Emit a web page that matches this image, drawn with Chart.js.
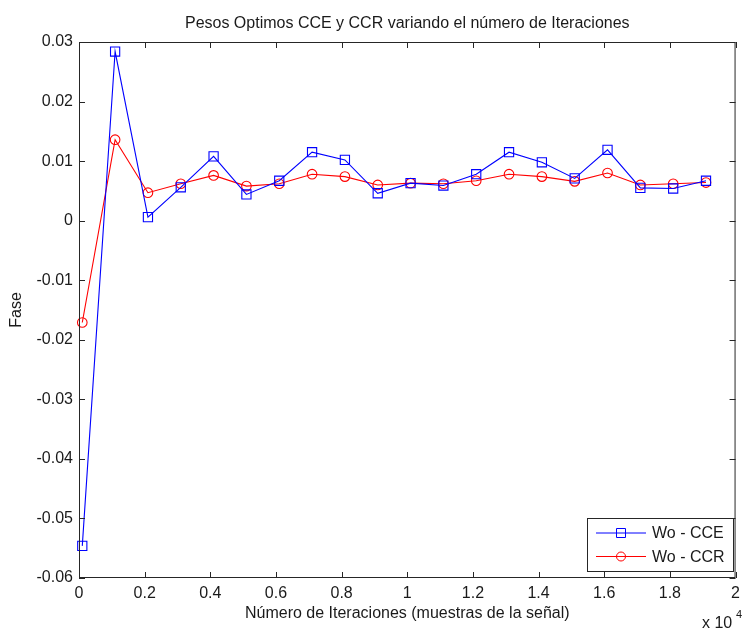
<!DOCTYPE html>
<html>
<head>
<meta charset="utf-8">
<script src="https://cdn.jsdelivr.net/npm/chart.js@4/dist/chart.umd.min.js"></script>
<style>
  html, body { margin: 0; padding: 0; background: #ffffff; }
  #wrap { width: 746px; height: 633px; }
</style>
</head>
<body>
<div id="wrap"><canvas id="grafico" width="746" height="633"></canvas></div>
<script>
// iteraciones en unidades de 10^4 muestras
const iteraciones = [0.01, 0.11, 0.21, 0.31, 0.41, 0.51, 0.61, 0.71, 0.81, 0.91,
                     1.01, 1.11, 1.21, 1.31, 1.41, 1.51, 1.61, 1.71, 1.81, 1.91];
const woCCE = [-0.0546, 0.0284, 0.0006, 0.0056, 0.0108, 0.0044, 0.0067, 0.0115, 0.0102, 0.0046,
               0.0063, 0.0059, 0.0078, 0.0115, 0.0098, 0.0071, 0.0119, 0.0055, 0.0054, 0.0067];
const woCCR = [-0.0171, 0.0136, 0.0047, 0.0062, 0.0076, 0.0058, 0.0062, 0.0078, 0.0074, 0.0060,
               0.0063, 0.0062, 0.0067, 0.0078, 0.0074, 0.0066, 0.0080, 0.0060, 0.0062, 0.0064];
const xTicks = [0, 0.2, 0.4, 0.6, 0.8, 1, 1.2, 1.4, 1.6, 1.8, 2];
const yTicks = [0.03, 0.02, 0.01, 0, -0.01, -0.02, -0.03, -0.04, -0.05, -0.06];

const titulo = "Pesos Optimos CCE y CCR variando el número de Iteraciones";
const etiquetaX = "Número de Iteraciones (muestras de la señal)";
const etiquetaY = "Fase";

const FUENTE = "'Liberation Sans', Arial, sans-serif";
const TEXTO = "#1a1a1a";
const EJE = "#262626";

function fmt(v) {
    return String(Number(v.toFixed(3)));
}

// caja, ticks hacia adentro, textos y leyenda al estilo MATLAB
const estiloMatlab = {
    id: "estiloMatlab",
    afterDatasetsDraw(chart) {
        const { ctx, chartArea: a, scales } = chart;
        const sx = scales.x, sy = scales.y;
        ctx.save();
        ctx.strokeStyle = EJE;
        ctx.lineWidth = 1;
        ctx.strokeRect(a.left + 0.5, a.top + 0.5, a.right - a.left - 1, a.bottom - a.top - 1);
        const L = 6;
        ctx.beginPath();
        xTicks.forEach(v => {
            const px = Math.round(sx.getPixelForValue(v)) + 0.5;
            ctx.moveTo(px, a.bottom); ctx.lineTo(px, a.bottom - L);
            ctx.moveTo(px, a.top); ctx.lineTo(px, a.top + L);
        });
        yTicks.forEach(v => {
            const py = Math.round(sy.getPixelForValue(v)) + 0.5;
            ctx.moveTo(a.left, py); ctx.lineTo(a.left + L, py);
            ctx.moveTo(a.right, py); ctx.lineTo(a.right - L, py);
        });
        ctx.stroke();

        // titulo y etiquetas
        ctx.fillStyle = TEXTO;
        ctx.font = "16px " + FUENTE;
        ctx.textAlign = "center";
        ctx.textBaseline = "middle";
        const cx = (a.left + a.right) / 2;
        ctx.fillText(titulo, cx, 24);
        ctx.fillText(etiquetaX, cx, 614);
        ctx.save();
        ctx.translate(17, (a.top + a.bottom) / 2);
        ctx.rotate(-Math.PI / 2);
        ctx.fillText(etiquetaY, 0, 0);
        ctx.restore();
        ctx.textAlign = "left";
        ctx.fillText("x 10", 702, 624);
        ctx.font = "11px " + FUENTE;
        ctx.fillText("4", 736, 615);

        // leyenda
        const lx = 587, ly = 518, lw = 146, lh = 53;
        ctx.fillStyle = "#ffffff";
        ctx.fillRect(lx, ly, lw, lh);
        ctx.strokeStyle = EJE;
        ctx.strokeRect(lx + 0.5, ly + 0.5, lw, lh);
        chart.data.datasets.forEach((ds, i) => {
            const yy = ly + 15 + i * 23.5;
            ctx.strokeStyle = ds.borderColor;
            ctx.lineWidth = 1;
            ctx.beginPath();
            ctx.moveTo(596, yy); ctx.lineTo(646, yy);
            ctx.stroke();
            ctx.beginPath();
            if (ds.pointStyle === "rect") {
                ctx.rect(621 - 4.5, yy - 4.5, 9, 9);
            } else {
                ctx.arc(621, yy, 4.5, 0, Math.PI * 2);
            }
            ctx.stroke();
            ctx.fillStyle = TEXTO;
            ctx.font = "16px " + FUENTE;
            ctx.textAlign = "left";
            ctx.fillText(ds.label, 652, yy + 1);
        });
        ctx.restore();
    }
};

const toPts = arr => arr.map((v, i) => ({ x: iteraciones[i], y: v }));

new Chart(document.getElementById("grafico"), {
    type: "line",
    data: {
        datasets: [
            {
                label: "Wo - CCE",
                data: toPts(woCCE),
                borderColor: "#0000ff",
                borderWidth: 1.1,
                pointStyle: "rect",
                pointRadius: 6.5,
                pointBorderWidth: 1.1,
                pointBackgroundColor: "rgba(0,0,0,0)",
                pointBorderColor: "#0000ff",
                tension: 0,
                clip: false
            },
            {
                label: "Wo - CCR",
                data: toPts(woCCR),
                borderColor: "#ff0000",
                borderWidth: 1.1,
                pointStyle: "circle",
                pointRadius: 4.8,
                pointBorderWidth: 1.1,
                pointBackgroundColor: "rgba(0,0,0,0)",
                pointBorderColor: "#ff0000",
                tension: 0,
                clip: false
            }
        ]
    },
    options: {
        responsive: false,
        animation: false,
        devicePixelRatio: 1,
        layout: { padding: { top: 42, right: 5, left: 0, bottom: 0 } },
        plugins: {
            legend: { display: false },
            title: { display: false },
            tooltip: { enabled: false }
        },
        scales: {
            x: {
                type: "linear",
                min: 0,
                max: 2,
                afterBuildTicks: s => { s.ticks = xTicks.map(v => ({ value: v })); },
                afterFit: s => { s.height = 55; },
                grid: { display: false, drawTicks: false },
                border: { display: false },
                ticks: {
                    padding: 6,
                    color: TEXTO,
                    font: { family: FUENTE, size: 16 },
                    maxRotation: 0,
                    callback: v => fmt(v)
                }
            },
            y: {
                type: "linear",
                min: -0.06,
                max: 0.03,
                afterBuildTicks: s => { s.ticks = yTicks.map(v => ({ value: v })); },
                afterFit: s => { s.width = 79; },
                grid: { display: false, drawTicks: false },
                border: { display: false },
                ticks: {
                    padding: 6,
                    color: TEXTO,
                    font: { family: FUENTE, size: 16 },
                    callback: v => fmt(v)
                }
            }
        }
    },
    plugins: [estiloMatlab]
});
</script>
</body>
</html>
